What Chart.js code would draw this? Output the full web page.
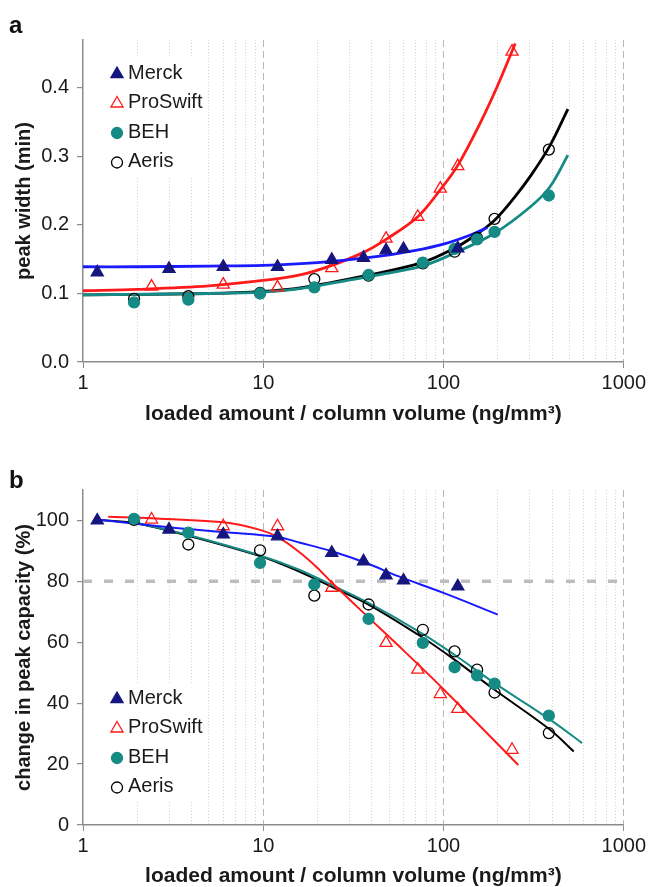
<!DOCTYPE html>
<html>
<head>
<meta charset="utf-8">
<script src="https://cdn.jsdelivr.net/npm/chart.js@4.4.1/dist/chart.umd.min.js"></script>
<style>
    html, body { margin: 0; padding: 0; background: #fff; }
    body { width: 649px; height: 887px; position: relative; overflow: hidden; font-family: 'Liberation Sans', Arial, sans-serif; }
    .panel { position: absolute; left: 0; width: 649px; }
    .tag { position: absolute; left: 9px; font-weight: bold; font-size: 24px; line-height: 1; color: #111; }
</style>
</head>
<body>
<div class="panel" style="top:0;height:440px"><canvas id="chartA" width="649" height="440"></canvas></div>
<div class="panel" style="top:440px;height:452px"><canvas id="chartB" width="649" height="452"></canvas></div>
<div class="tag" style="top:13px">a</div>
<div class="tag" style="top:468px">b</div>
<script>
// Loaded amount per column volume (ng/mm3) for each column
const loadMerck = [1.2, 3, 6, 12, 24, 36, 48, 60, 120];
const loadProSwift = [2.4, 6, 12, 24, 48, 72, 96, 120, 240];
const loadBEH = [1.92, 3.84, 9.6, 19.2, 38.4, 76.8, 115.2, 153.6, 192, 384];
const loadAeris = [1.92, 3.84, 9.6, 19.2, 38.4, 76.8, 115.2, 153.6, 192, 384];

// (a) peak width (min)
const widthMerck = [0.131, 0.136, 0.139, 0.139, 0.149, 0.152, 0.163, 0.165, 0.166];
const widthProSwift = [0.110, 0.113, 0.109, 0.137, 0.180, 0.212, 0.253, 0.286, 0.453];
const widthBEH = [0.087, 0.091, 0.100, 0.109, 0.127, 0.145, 0.165, 0.179, 0.190, 0.243];
const widthAeris = [0.092, 0.096, 0.101, 0.121, 0.126, 0.144, 0.161, 0.181, 0.209, 0.310];

// (b) change in peak capacity (%)
const capMerck = [100, 97.0, 95.4, 94.8, 89.4, 86.6, 82.0, 80.3, 78.4];
const capProSwift = [100.3, 98.1, 98.1, 77.9, 59.8, 51.0, 43.0, 38.1, 24.7];
const capBEH = [100.5, 96.0, 86.1, 79.0, 67.7, 59.8, 51.8, 49.1, 46.4, 35.9];
const capAeris = [100.2, 92.1, 90.2, 75.3, 72.4, 64.1, 57.0, 51.0, 43.5, 30.2];

// fitted curves, (a)
const fitWidthMerckX = [1, 2, 5, 10, 20, 40, 70, 100, 140, 175];
const fitWidthMerckY = [0.139, 0.139, 0.140, 0.141, 0.145, 0.153, 0.163, 0.172, 0.185, 0.196];
const fitWidthProSwiftX = [1, 2, 5, 10, 16, 24, 36, 48, 72, 97, 120, 160, 200, 250];
const fitWidthProSwiftY = [0.104, 0.106, 0.111, 0.119, 0.127, 0.141, 0.160, 0.179, 0.212, 0.253, 0.287, 0.349, 0.404, 0.465];
const fitWidthBEHX = [1, 5, 10, 16, 37, 76, 115, 192, 305, 388, 490];
const fitWidthBEHY = [0.098, 0.100, 0.102, 0.107, 0.124, 0.140, 0.159, 0.188, 0.227, 0.255, 0.302];
const fitWidthAerisX = [1, 5, 10, 16, 37, 76, 115, 150, 192, 247, 305, 388, 490];
const fitWidthAerisY = [0.098, 0.100, 0.103, 0.108, 0.126, 0.145, 0.166, 0.185, 0.207, 0.240, 0.272, 0.315, 0.369];

// fitted curves, (b)
const fitCapMerckX = [1.2, 3, 6, 12, 16, 24, 37, 56, 100, 200];
const fitCapMerckY = [100.3, 97.8, 96.2, 94.6, 92.7, 89.9, 86.1, 81.7, 76.2, 69.1];
const fitCapProSwiftX = [1.38, 2.4, 6, 9.5, 12, 15.7, 20, 24, 37, 56, 100, 260];
const fitCapProSwiftY = [101.2, 100.7, 99.4, 97.0, 94.6, 89.8, 84.4, 79.6, 69.0, 59.0, 44.6, 19.7];
const fitCapBEHX = [1.92, 3.84, 9.6, 15.7, 24, 38.4, 75, 115, 192, 392, 587];
const fitCapBEHY = [99.4, 95.2, 88.5, 83.9, 78.8, 72.9, 63.1, 55.9, 46.6, 34.5, 26.9];
const fitCapAerisX = [1.2, 1.92, 3.84, 9.6, 15.7, 24, 38.4, 75, 115, 192, 392, 528];
const fitCapAerisY = [100.2, 99.2, 95.0, 88.3, 83.3, 78.2, 72.4, 61.9, 54.3, 44.4, 31.2, 24.1];

const capThreshold = 80;

// axis ticks
const xTickLabels = [1, 10, 100, 1000];
const xGridValues = [1, 2, 3, 4, 5, 6, 7, 8, 9, 10, 20, 30, 40, 50, 60, 70, 80, 90,
    100, 200, 300, 400, 500, 600, 700, 800, 900, 1000];
const yTicksA = [0, 0.1, 0.2, 0.3, 0.4];
const yTicksB = [0, 20, 40, 60, 80, 100];

const FONT = "'Liberation Sans', Arial, sans-serif";
const AXIS_GREY = '#8c8c8c';
const TEXT = '#1a1a1a';

const colors = {
    merckLine: '#1a1aff',
    merck: '#16167f',
    proswift: '#ff1a1a',
    beh: '#168a84',
    aeris: '#000000'
};

const xy = (xs, ys) => xs.map((x, i) => ({ x: x, y: ys[i] }));

function pointSet(label, xs, ys, style, fill, stroke) {
    return {
        label: label,
        data: xy(xs, ys),
        pointStyle: style,
        pointRadius: style === 'triangle' ? 7 : 5.5,
        backgroundColor: fill,
        pointBackgroundColor: fill,
        borderColor: stroke,
        pointBorderColor: stroke,
        borderWidth: 1.3,
        pointBorderWidth: 1.3,
        showLine: false,
        order: 0
    };
}

function curveSet(xs, ys, color, width) {
    return {
        data: xy(xs, ys),
        showLine: true,
        pointRadius: 0,
        borderColor: color,
        borderWidth: width,
        tension: 0.35,
        fill: false,
        order: 5
    };
}

// legend drawn inside the plot area, on a white box over the grid
const markerLegend = {
    id: 'markerLegend',
    beforeDatasetsDraw(chart, args, opts) {
        const ctx = chart.ctx;
        const items = chart.data.datasets.filter(d => d.label);
        ctx.save();
        ctx.font = '20px ' + FONT;
        const w = Math.max(...items.map(d => ctx.measureText(d.label).width));
        ctx.fillStyle = '#fff';
        ctx.fillRect(opts.x - 12, opts.y - 15, (opts.textX - opts.x) + w + 16, opts.step * (items.length - 1) + 30);
        items.forEach((d, i) => {
            const y = opts.y + i * opts.step;
            ctx.fillStyle = d.backgroundColor;
            ctx.strokeStyle = d.borderColor;
            ctx.lineWidth = d.borderWidth;
            Chart.helpers.drawPoint(ctx, {
                pointStyle: d.pointStyle,
                radius: d.pointRadius,
                rotation: 0,
                borderWidth: d.borderWidth
            }, opts.x, y + 1);
            ctx.fillStyle = TEXT;
            ctx.textBaseline = 'middle';
            ctx.textAlign = 'left';
            ctx.fillText(d.label, opts.textX, y);
        });
        ctx.restore();
    }
};

const isDecade = c => c.tick && xTickLabels.includes(c.tick.value);

function xScale(axisHeight, titlePad) {
    return {
        type: 'logarithmic',
        min: 1,
        max: 1000,
        afterBuildTicks: s => { s.ticks = xGridValues.map(v => ({ value: v })); },
        afterFit: s => { s.height = axisHeight; },
        ticks: {
            autoSkip: false,
            maxRotation: 0,
            padding: 3,
            color: TEXT,
            font: { family: FONT, size: 20 },
            callback: v => xTickLabels.includes(v) ? String(v) : ''
        },
        grid: {
            lineWidth: 1,
            tickLength: 6,
            color: c => {
                if (!c.tick || c.tick.value === 1) return 'rgba(0,0,0,0)';
                return isDecade(c) ? '#b8b8b8' : '#d6d6d6';
            },
            tickColor: c => isDecade(c) ? AXIS_GREY : 'rgba(0,0,0,0)'
        },
        border: {
            color: AXIS_GREY,
            width: 1.5,
            dash: c => {
                if (!c.tick) return [];
                return isDecade(c) ? [7, 4] : [1, 2];
            }
        },
        title: {
            display: true,
            text: 'loaded amount / column volume (ng/mm³)',
            color: TEXT,
            font: { family: FONT, size: 21, weight: 'bold' },
            padding: { top: 0, bottom: titlePad }
        }
    };
}

function yScale(max, ticks, fmt, title) {
    return {
        min: 0,
        max: max,
        afterBuildTicks: s => { s.ticks = ticks.map(v => ({ value: v })); },
        afterFit: s => { s.width = 83; },
        ticks: {
            padding: 8,
            color: TEXT,
            font: { family: FONT, size: 20 },
            callback: fmt
        },
        grid: {
            drawOnChartArea: false,
            tickLength: 6,
            color: AXIS_GREY,
            lineWidth: 1.2
        },
        border: { color: AXIS_GREY, width: 1.5 },
        title: {
            display: true,
            text: title,
            color: TEXT,
            font: { family: FONT, size: 20, weight: 'bold' },
            padding: { top: 12, bottom: 0 }
        }
    };
}

function baseOptions(topPad, legendY, x, y) {
    return {
        responsive: false,
        animation: false,
        layout: { padding: { top: topPad, right: 22, left: 0, bottom: 0 } },
        plugins: {
            legend: { display: false },
            tooltip: { enabled: false },
            markerLegend: { x: 117, textX: 128, y: legendY, step: 29.5 }
        },
        scales: { x: x, y: y }
    };
}

// (a) peak width vs loaded amount
new Chart(document.getElementById('chartA'), {
    type: 'scatter',
    data: {
        datasets: [
            pointSet('Merck', loadMerck, widthMerck, 'triangle', colors.merck, colors.merck),
            pointSet('ProSwift', loadProSwift, widthProSwift, 'triangle', 'rgba(0,0,0,0)', colors.proswift),
            pointSet('BEH', loadBEH, widthBEH, 'circle', colors.beh, colors.beh),
            pointSet('Aeris', loadAeris, widthAeris, 'circle', 'rgba(0,0,0,0)', colors.aeris),
            curveSet(fitWidthMerckX, fitWidthMerckY, colors.merckLine, 2.8),
            curveSet(fitWidthProSwiftX, fitWidthProSwiftY, colors.proswift, 2.8),
            curveSet(fitWidthBEHX, fitWidthBEHY, colors.beh, 2.8),
            curveSet(fitWidthAerisX, fitWidthAerisY, colors.aeris, 2.8)
        ]
    },
    options: baseOptions(40, 73,
        xScale(78, 13),
        yScale(0.47, yTicksA, v => v.toFixed(1), 'peak width (min)')),
    plugins: [markerLegend]
});

// (b) change in peak capacity vs loaded amount
const thresholdLine = {
    data: [{ x: 1, y: capThreshold }, { x: 1000, y: capThreshold }],
    showLine: true,
    pointRadius: 0,
    borderColor: '#bdbdbd',
    borderWidth: 3.5,
    borderDash: [9, 12],
    order: 10
};

new Chart(document.getElementById('chartB'), {
    type: 'scatter',
    data: {
        datasets: [
            pointSet('Merck', loadMerck, capMerck, 'triangle', colors.merck, colors.merck),
            pointSet('ProSwift', loadProSwift, capProSwift, 'triangle', 'rgba(0,0,0,0)', colors.proswift),
            pointSet('BEH', loadBEH, capBEH, 'circle', colors.beh, colors.beh),
            pointSet('Aeris', loadAeris, capAeris, 'circle', 'rgba(0,0,0,0)', colors.aeris),
            curveSet(fitCapMerckX, fitCapMerckY, colors.merckLine, 2),
            curveSet(fitCapProSwiftX, fitCapProSwiftY, colors.proswift, 2),
            curveSet(fitCapBEHX, fitCapBEHY, colors.beh, 2),
            curveSet(fitCapAerisX, fitCapAerisY, colors.aeris, 2),
            thresholdLine
        ]
    },
    options: baseOptions(50, 258,
        xScale(67, 3),
        yScale(110, yTicksB, v => String(v), 'change in peak capacity (%)')),
    plugins: [markerLegend]
});
</script>
</body>
</html>
